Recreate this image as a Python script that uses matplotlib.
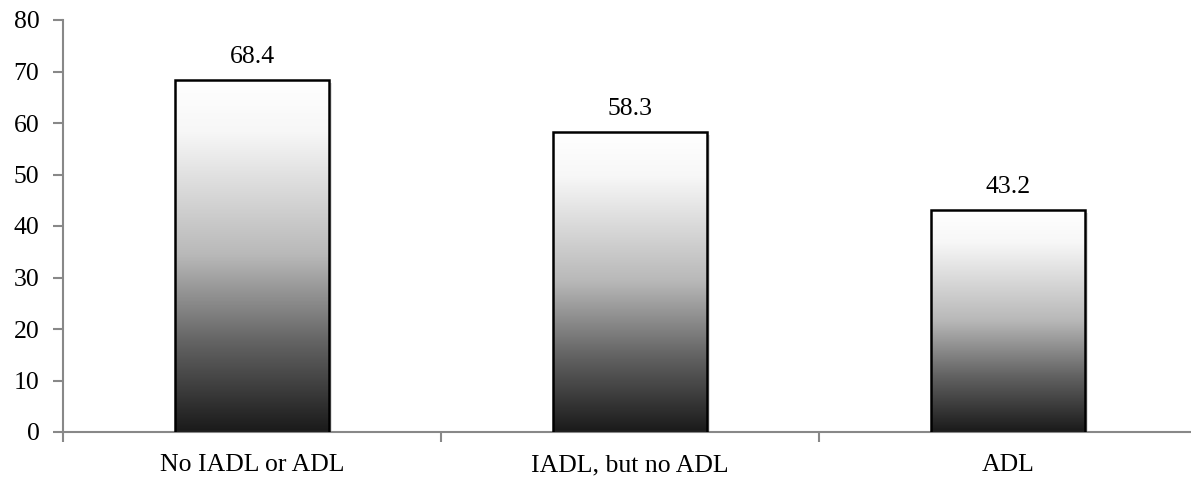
import numpy as np
import matplotlib.pyplot as plt
from matplotlib.colors import LinearSegmentedColormap
from matplotlib.patches import Rectangle

categories = ['No IADL or ADL', 'IADL, but no ADL', 'ADL']
values = [68.4, 58.3, 43.2]
y_ticks = [0, 10, 20, 30, 40, 50, 60, 70, 80]

plt.rcParams['font.family'] = ['Liberation Serif', 'DejaVu Serif']

# white at the top fading to near black at the base
shade = LinearSegmentedColormap.from_list('shade', [
    (0.0, '#ffffff'), (0.15, '#f7f7f7'), (0.5, '#b8b8b8'),
    (0.75, '#626262'), (1.0, '#1a1a1a')])

fig = plt.figure(figsize=(11.91, 4.87), dpi=100)
ax = fig.add_axes([63 / 1191, (487 - 432) / 487, 1134 / 1191, 412 / 487])

x = np.arange(len(categories))
width = 0.405
grad = np.linspace(0, 1, 256).reshape(-1, 1)
fs = 18.5

bars = ax.bar(x, values, width=width, facecolor='none', edgecolor='black',
              linewidth=1.8, zorder=3)
for bar, v in zip(bars, values):
    x0 = bar.get_x()
    # soft drop shadow
    ax.add_patch(Rectangle((x0 + 0.008, -0.6), width, v, facecolor='#000000',
                           alpha=0.12, edgecolor='none', zorder=1))
    im = ax.imshow(grad, cmap=shade, vmin=0, vmax=1, aspect='auto',
                   extent=[x0, x0 + width, 0, v], zorder=2)
    im.set_clip_path(bar)
    ax.text(bar.get_x() + width / 2, v + 2.3, f'{v:.1f}', ha='center',
            va='bottom', fontsize=fs)

ax.set_xlim(-0.5, 2.5)
ax.set_ylim(0, 80)
ax.set_yticks(y_ticks)
ax.set_yticklabels([str(t) for t in y_ticks], fontsize=fs)

ax.set_xticks([-0.5, 0.5, 1.5, 2.5])
ax.set_xticklabels([])
ax.set_xticks(x, minor=True)
ax.set_xticklabels(categories, minor=True, fontsize=fs)
ax.tick_params(axis='x', which='minor', length=0, pad=16)
ax.tick_params(axis='x', which='major', length=7, color='#888888', width=1.5)
ax.tick_params(axis='y', length=7, color='#888888', width=1.5, pad=10)

for side in ['top', 'right']:
    ax.spines[side].set_visible(False)
for side in ['left', 'bottom']:
    ax.spines[side].set_color('#888888')
    ax.spines[side].set_linewidth(1.5)

fig.savefig('out.png', dpi=100)
